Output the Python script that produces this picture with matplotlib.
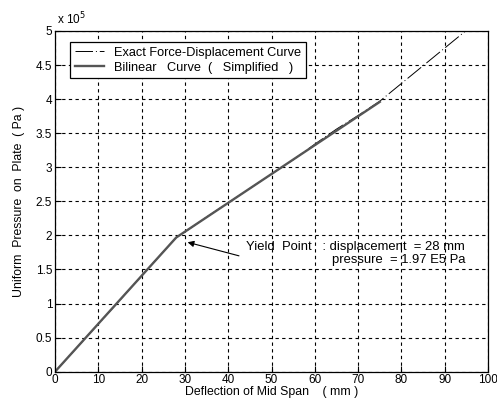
import matplotlib
matplotlib.use("Agg")
import matplotlib.pyplot as plt

# exact force-displacement curve (pressure in units of 1e5 Pa)
exact_defl = [0, 5, 10, 15, 20, 25, 28, 30, 35, 40, 45, 50, 55, 60, 65, 70, 75, 80, 85, 90, 95]
exact_pres = [0, 0.35, 0.70, 1.05, 1.41, 1.76, 1.97, 2.05, 2.27, 2.48, 2.69, 2.90, 3.11, 3.34,
              3.56, 3.76, 3.97, 4.23, 4.49, 4.75, 5.01]

# bilinear (simplified) curve
bilin_defl = [0, 28, 75]
bilin_pres = [0, 1.97, 3.96]

xticks = [0, 10, 20, 30, 40, 50, 60, 70, 80, 90, 100]
yticks = [0, 0.5, 1, 1.5, 2, 2.5, 3, 3.5, 4, 4.5, 5]

plt.rcParams["font.family"] = ["Liberation Sans", "DejaVu Sans"]

fig = plt.figure(figsize=(4.97, 4.11), dpi=100)
ax = fig.add_axes([0.1107, 0.0956, 0.8713, 0.829])

ax.plot(exact_defl, exact_pres, color="black", linewidth=0.7,
        dashes=(18, 3, 1, 3), label="Exact Force-Displacement Curve")
ax.plot(bilin_defl, bilin_pres, color="#555555", linewidth=1.7,
        label="Bilinear   Curve  (   Simplified   )")

ax.set_xlim(0, 100)
ax.set_ylim(0, 5)
ax.set_xticks(xticks)
ax.set_yticks(yticks)
ax.set_xticklabels([str(t) for t in xticks])
ax.set_yticklabels(["0", "0.5", "1", "1.5", "2", "2.5", "3", "3.5", "4", "4.5", "5"])
ax.tick_params(direction="in", length=4, labelsize=8.5, pad=2, width=0.8)
ax.grid(True, color="black", linestyle=(0, (3, 3)), linewidth=0.8)
for s in ax.spines.values():
    s.set_linewidth(0.9)

ax.set_xlabel("Deflection of Mid Span    ( mm )", fontsize=8.8, labelpad=0)
ax.set_ylabel("Uniform  Pressure  on  Plate  ( Pa )", fontsize=8.8, labelpad=8)
ax.text(0.005, 1.012, r"x 10$^5$", transform=ax.transAxes, fontsize=8.5,
        ha="left", va="bottom")

ax.annotate("", xy=(30.0, 1.91), xytext=(43.1, 1.69),
            arrowprops=dict(arrowstyle="-|>", color="black", lw=0.8,
                            mutation_scale=9))
ax.text(94.7, 1.74, "Yield  Point   : displacement  = 28 mm\npressure  = 1.97 E5 Pa",
        ha="right", va="center", multialignment="right", fontsize=9.4,
        linespacing=1.1, zorder=5)

leg = ax.legend(loc="upper left", bbox_to_anchor=(0.035, 0.967), fontsize=9.2,
                fancybox=False, framealpha=1, edgecolor="black",
                handlelength=2.3, borderpad=0.35, labelspacing=0.25,
                handletextpad=0.8, borderaxespad=0)
leg.get_frame().set_linewidth(0.9)

fig.savefig("out.png", dpi=100)
